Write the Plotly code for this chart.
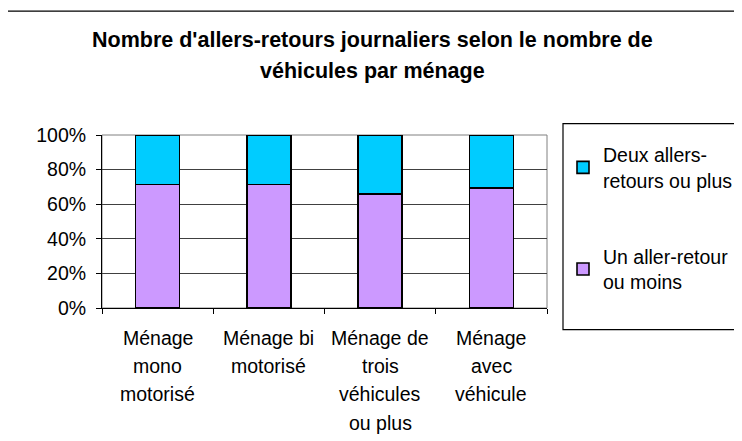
import plotly.graph_objects as go

categories = ["Ménage<br>mono<br>motorisé", "Ménage bi<br>motorisé",
              "Ménage de<br>trois<br>véhicules<br>ou plus", "Ménage<br>avec<br>véhicule"]
cat_ids = ["c1", "c2", "c3", "c4"]
un_aller_retour = [0.714, 0.713, 0.660, 0.692]
deux_allers_retours = [0.286, 0.287, 0.340, 0.308]
series_names = ["Un aller-retour<br>ou moins", "Deux allers-<br>retours ou plus"]
title_lines = ["Nombre d'allers-retours journaliers selon le nombre de",
               "véhicules par ménage"]

FONT = "Liberation Sans, Arial, sans-serif"
OFF = 8  # page body margin
W, H = 742, 441
L, T = 102 - OFF, 134.5 - OFF
R = W - (547 - OFF)
B = H - (308.3 - OFF)
PW, PH = W - L - R, H - T - B


def px_x(x):
    return (x - OFF - L) / PW


def px_y(y):
    return (H - B - (y - OFF)) / PH


fig = go.Figure()
fig.add_trace(go.Bar(x=cat_ids, y=un_aller_retour, name=series_names[0],
                     marker=dict(color="#CC99FF", line=dict(color="black", width=1.6)),
                     legendgroup="a", legendrank=2))
fig.add_trace(go.Bar(x=cat_ids, y=deux_allers_retours, name=series_names[1],
                     marker=dict(color="#00CCFF", line=dict(color="black", width=1.6)),
                     legendgroup="b", legendrank=1))

annotations = []
for i, t in enumerate(title_lines):
    annotations.append(dict(text="<b>" + t + "</b>", x=px_x(372), y=px_y(39 + 31 * i),
                            xref="paper", yref="paper", showarrow=False,
                            xanchor="center", yanchor="middle",
                            font=dict(family=FONT, size=21.5, color="black")))
for cid, lab in zip(cat_ids, categories):
    for j, line in enumerate(lab.split("<br>")):
        annotations.append(dict(text=line, x=cid, y=px_y(338 + 28.5 * j), xref="x",
                                yref="paper", showarrow=False, xanchor="center",
                                yanchor="middle",
                                font=dict(family=FONT, size=19.5, color="black")))

shapes = [
    dict(type="rect", xref="paper", yref="paper", x0=px_x(7), x1=px_x(760),
         y0=px_y(460), y1=px_y(10), line=dict(color="black", width=1.2), layer="below"),
    dict(type="rect", xref="paper", yref="paper", x0=px_x(563), x1=px_x(740),
         y0=px_y(330), y1=px_y(123), line=dict(color="black", width=1.2), layer="below"),
    dict(type="rect", xref="paper", yref="paper", x0=0, x1=1, y0=0, y1=1,
         line=dict(color="#808080", width=1), layer="below"),
]

fig.update_layout(
    width=W, height=H,
    margin=dict(l=L, r=R, t=T, b=B),
    paper_bgcolor="white", plot_bgcolor="white",
    barmode="stack", bargap=0.604,
    font=dict(family=FONT, size=19.5, color="black"),
    annotations=annotations, shapes=shapes,
    legend=dict(x=px_x(563), y=px_y(135), xanchor="left", yanchor="top",
                traceorder="grouped", tracegroupgap=48,
                font=dict(family=FONT, size=19.5, color="black"),
                bgcolor="rgba(0,0,0,0)", borderwidth=0),
    showlegend=True,
)
fig.update_xaxes(type="category", showticklabels=False, ticks="outside",
                 tickson="boundaries", ticklen=5, tickcolor="black",
                 showline=True, linecolor="black", linewidth=1, showgrid=False,
                 fixedrange=True)
fig.update_yaxes(range=[0, 1], dtick=0.2, tickformat=".0%", ticks="outside",
                 ticklen=5, tickcolor="black", showline=True, linecolor="black",
                 linewidth=1, showgrid=True, gridcolor="#404040", gridwidth=1,
                 zeroline=False, ticklabelstandoff=6,
                 tickfont=dict(family=FONT, size=19.5, color="black"), fixedrange=True)

fig.write_html("out.html")
